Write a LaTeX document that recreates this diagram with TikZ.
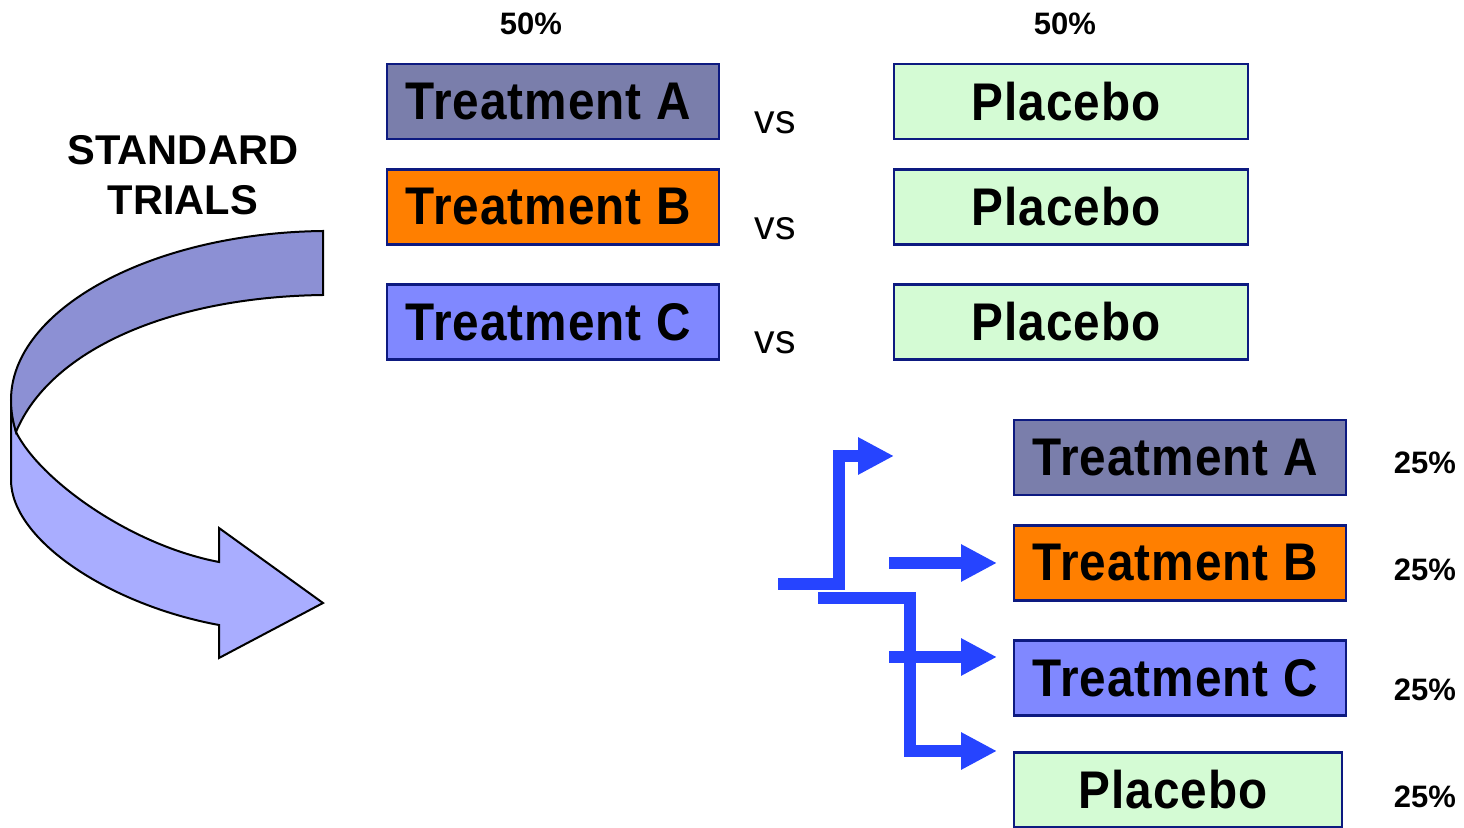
\documentclass[tikz,border=0pt]{standalone}
\usepackage{fontspec}
\setmainfont{Liberation Sans}
\newfontfamily\boxfont{Liberation Sans}[FakeStretch=0.9,LetterSpace=2]
\usetikzlibrary{arrows.meta}

\definecolor{boxline}{HTML}{0D1A80}
\definecolor{trtA}{HTML}{7A7EAB}
\definecolor{trtB}{HTML}{FF7F00}
\definecolor{trtC}{HTML}{8088FF}
\definecolor{plc}{HTML}{D4FBD4}
\definecolor{flowblue}{HTML}{2644FF}
\definecolor{bandtop}{HTML}{8C90D4}
\definecolor{bandlow}{HTML}{A9ADFF}

\tikzset{
  box/.style={rectangle, draw=boxline, line width=1.2pt, minimum height=37.5pt,
    inner sep=0pt, font=\boxfont\bfseries\fontsize{26.5}{30}\selectfont,
    execute at end node={\hspace{5pt}}},
  trtbox/.style={box, minimum width=166pt},
  plcbox/.style={box, minimum width=177pt, fill=plc},
  pct/.style={font=\bfseries\fontsize{15.5}{18}\selectfont},
  vslabel/.style={font=\fontsize{20.5}{24}\selectfont},
  flow/.style={draw=flowblue, line width=6pt, -{Triangle[length=18pt,width=17.5pt]}}
}

\begin{document}
\begin{tikzpicture}[x=0.5pt,y=-0.5pt]
    \useasboundingbox (0,0) rectangle (1464,828);

      \path[fill=bandlow, draw=black, line width=1pt] (11,400) -- (11,480)
        .. controls (11,540) and (110,605) .. (219,625) -- (219,658) -- (323,603)
        -- (219,528) -- (219,562) .. controls (130,545) and (40,480) .. (16,432)
        .. controls (13,420) and (11,410) .. cycle;
      \path[fill=bandtop, draw=black, line width=1pt] (323,231)
        .. controls (150,233) and (11,310) .. (11,400)
        .. controls (11,412) and (13,422) .. (16,432)
        .. controls (50,350) and (170,297) .. (323,295) -- cycle;

      \node[font=\bfseries\fontsize{20.8}{25}\selectfont, align=center] (std) at (183,175) {STANDARD\\TRIALS};

      \begin{scope}[every node/.style={pct}]
        \node (p1) at (531,24) {50\%};
        \node (p2) at (1065,24) {50\%};
        \node (q1) at (1425,463) {25\%};
        \node (q2) at (1425,570) {25\%};
        \node (q3) at (1425,690) {25\%};
        \node (q4) at (1425,797) {25\%};
      \end{scope}

      \node[trtbox, fill=trtA] (a1) at (553,101.5) {Treatment A};
      \node[trtbox, fill=trtB] (b1) at (553,207) {Treatment B};
      \node[trtbox, fill=trtC] (c1) at (553,322) {Treatment C};

      \node[plcbox] (pl1) at (1071,101.5) {Placebo};
      \node[plcbox] (pl2) at (1071,207) {Placebo};
      \node[plcbox] (pl3) at (1071,322) {Placebo};

      \begin{scope}[every node/.style={vslabel}]
        \node (v1) at (775,123) {vs};
        \node (v2) at (775,229) {vs};
        \node (v3) at (775,343) {vs};
      \end{scope}

      \node[trtbox, fill=trtA] (a2) at (1180,457.5) {Treatment A};
      \node[trtbox, fill=trtB] (b2) at (1180,563) {Treatment B};
      \node[trtbox, fill=trtC] (c2) at (1180,678) {Treatment C};
      \node[plcbox, minimum width=164pt] (pl4) at (1178,790) {Placebo};

      \coordinate (s1) at (778,584);
      \coordinate (k1) at (839,584);
      \coordinate (e1) at (894,456);
      \coordinate (s2) at (889,563);
      \coordinate (e2) at (997,563);
      \coordinate (s3) at (818,598);
      \coordinate (k3) at (910,598);
      \coordinate (e3) at (997,751);
      \coordinate (s4) at (889,657);
      \coordinate (e4) at (997,657);

      \draw[flow] (s1) -- (k1) |- (e1);
      \draw[flow] (s2) -- (e2);
      \draw[flow] (s3) -- (k3) |- (e3);
      \draw[flow] (s4) -- (e4);

    \end{tikzpicture}
\end{document}
